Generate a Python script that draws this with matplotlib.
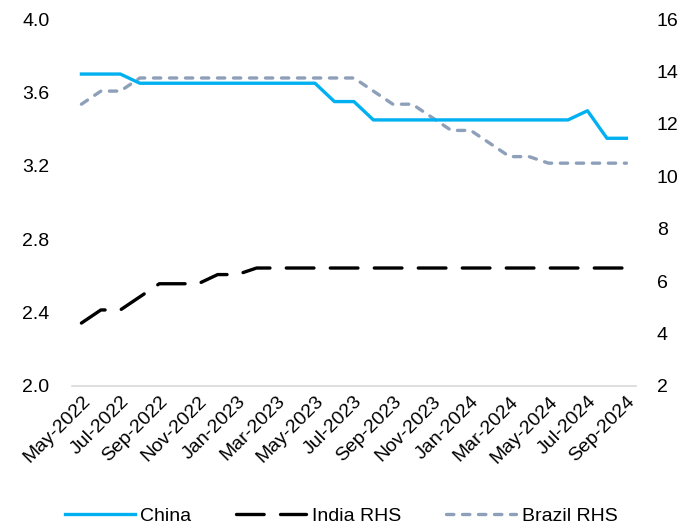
import matplotlib
matplotlib.use("Agg")
import matplotlib.pyplot as plt

plt.rcParams['font.family'] = ['Liberation Sans', 'DejaVu Sans']

months = ["May-2022", "Jun-2022", "Jul-2022", "Aug-2022", "Sep-2022", "Oct-2022",
          "Nov-2022", "Dec-2022", "Jan-2023", "Feb-2023", "Mar-2023", "Apr-2023",
          "May-2023", "Jun-2023", "Jul-2023", "Aug-2023", "Sep-2023", "Oct-2023",
          "Nov-2023", "Dec-2023", "Jan-2024", "Feb-2024", "Mar-2024", "Apr-2024",
          "May-2024", "Jun-2024", "Jul-2024", "Aug-2024", "Sep-2024"]

china = [3.70, 3.70, 3.70, 3.65, 3.65, 3.65, 3.65, 3.65, 3.65, 3.65, 3.65, 3.65,
         3.65, 3.55, 3.55, 3.45, 3.45, 3.45, 3.45, 3.45, 3.45, 3.45, 3.45, 3.45,
         3.45, 3.45, 3.50, 3.35, 3.35]

india = [4.40, 4.90, 4.90, 5.40, 5.90, 5.90, 5.90, 6.25, 6.25, 6.50, 6.50, 6.50,
         6.50, 6.50, 6.50, 6.50, 6.50, 6.50, 6.50, 6.50, 6.50, 6.50, 6.50, 6.50,
         6.50, 6.50, 6.50, 6.50, 6.50]

brazil = [12.75, 13.25, 13.25, 13.75, 13.75, 13.75, 13.75, 13.75, 13.75, 13.75,
          13.75, 13.75, 13.75, 13.75, 13.75, 13.25, 12.75, 12.75, 12.25, 11.75,
          11.75, 11.25, 10.75, 10.75, 10.50, 10.50, 10.50, 10.50, 10.50]

left_ticks = [2.0, 2.4, 2.8, 3.2, 3.6, 4.0]
right_ticks = [2, 4, 6, 8, 10, 12, 14, 16]

x = list(range(len(months)))

fig = plt.figure(figsize=(6.96, 5.28), dpi=100)
ax = fig.add_axes([0.103, 0.269, 0.811, 0.695])
ax2 = ax.twinx()

lw = 2.4
l1, = ax.plot(x, china, color='#00B0F0', lw=lw, label='China',
              solid_joinstyle='round', zorder=3)
l2, = ax2.plot(x, india, color='black', lw=lw, dashes=(8.3, 4.9),
               dash_capstyle='round', label='India RHS')
l3, = ax2.plot(x, brazil, color='#8EA0B9', lw=lw, dashes=(2.2, 2.6),
               dash_capstyle='round', label='Brazil RHS')
ax.set_zorder(ax2.get_zorder() + 1)
ax.patch.set_visible(False)

ax.set_xlim(-0.5, len(months) - 0.5)
ax.set_ylim(2.0, 4.0)
ax.set_yticks(left_ticks)
ax.set_yticklabels([f"{v:.1f}" for v in left_ticks])
ax2.set_ylim(2, 16)
ax2.set_yticks(right_ticks)

ax.set_xticks(x[::2])
ax.set_xticklabels(months[::2], rotation=45, ha='right', rotation_mode='anchor')

for a in (ax, ax2):
    for s in a.spines.values():
        s.set_visible(False)
    a.tick_params(length=0, labelsize=14, colors='black')
ax.tick_params(axis='y', pad=16)
ax2.tick_params(axis='y', pad=15)
ax.tick_params(axis='x', pad=5)
ax.spines['bottom'].set_visible(True)
ax.spines['bottom'].set_color('#D9D9D9')
ax.spines['bottom'].set_linewidth(1.2)

fig.legend(handles=[l1, l2, l3], loc='lower center', ncol=3, frameon=False,
           fontsize=14, handlelength=3.6, handletextpad=0.3, columnspacing=2.3,
           bbox_to_anchor=(0.49, -0.028))

fig.savefig("out.png", dpi=100)
